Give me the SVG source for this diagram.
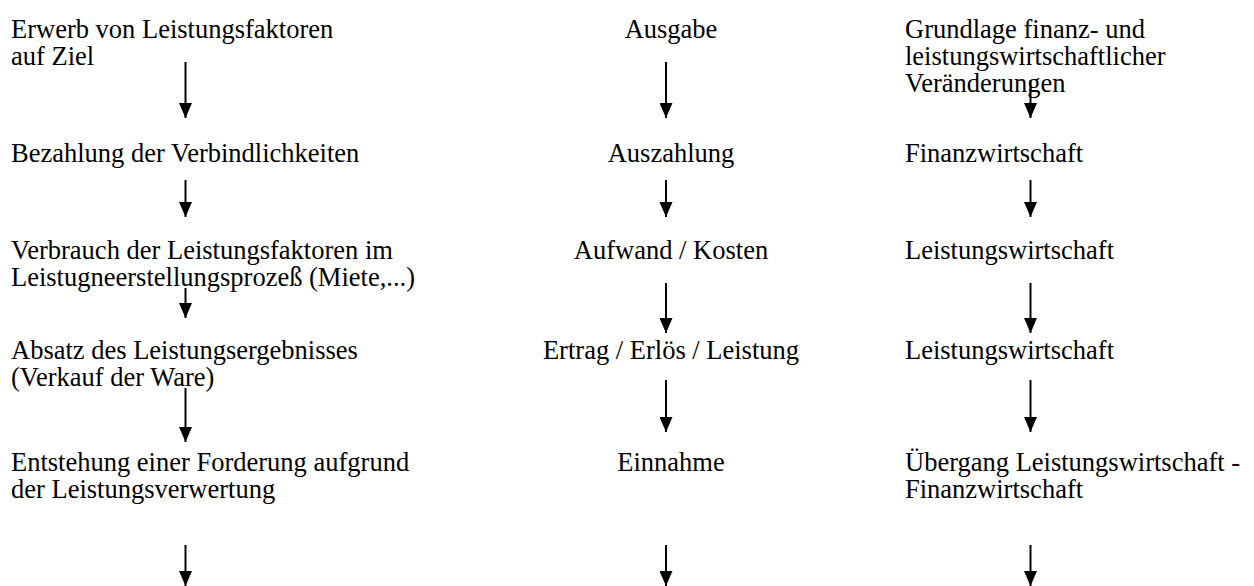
<svg xmlns="http://www.w3.org/2000/svg" width="1254" height="586" viewBox="0 0 1254 586">
<style>
text{font-family:"Liberation Serif","Times New Roman",serif;font-size:26.5px;fill:#000}
.c{text-anchor:middle}
.ar{stroke:#000;stroke-width:2;fill:none;marker-end:url(#ah)}
</style>
<defs>
<marker id="ah" markerWidth="15" markerHeight="13" refX="15" refY="6.5" orient="auto" markerUnits="userSpaceOnUse" viewBox="0 0 15 13">
<path d="M0,0 L15,6.5 L0,13 Z" fill="#000"/>
</marker>
</defs>
<rect width="1254" height="586" fill="#fff"/>
<g id="n1"><text x="11" y="38">Erwerb von Leistungsfaktoren</text><text x="11" y="65">auf Ziel</text></g>
<g id="n2"><text x="11" y="162">Bezahlung der Verbindlichkeiten</text></g>
<g id="n3"><text x="11" y="259">Verbrauch der Leistungsfaktoren im</text><text x="11" y="286">Leistugneerstellungsprozeß (Miete,...)</text></g>
<g id="n4"><text x="11" y="359">Absatz des Leistungsergebnisses</text><text x="11" y="386">(Verkauf der Ware)</text></g>
<g id="n5"><text x="11" y="471">Entstehung einer Forderung aufgrund</text><text x="11" y="498">der Leistungsverwertung</text></g>
<g id="m1"><text class="c" x="671" y="38">Ausgabe</text></g>
<g id="m2"><text class="c" x="671" y="162">Auszahlung</text></g>
<g id="m3"><text class="c" x="671" y="259">Aufwand / Kosten</text></g>
<g id="m4"><text class="c" x="671" y="359">Ertrag / Erlös / Leistung</text></g>
<g id="m5"><text class="c" x="671" y="471">Einnahme</text></g>
<g id="r1"><text x="905" y="38">Grundlage finanz- und</text><text x="905" y="65">leistungswirtschaftlicher</text><text x="905" y="92">Veränderungen</text></g>
<g id="r2"><text x="905" y="162">Finanzwirtschaft</text></g>
<g id="r3"><text x="905" y="259">Leistungswirtschaft</text></g>
<g id="r4"><text x="905" y="359">Leistungswirtschaft</text></g>
<g id="r5"><text x="905" y="471">Übergang Leistungswirtschaft -</text><text x="905" y="498">Finanzwirtschaft</text></g>
<g id="connectors">
<line class="ar" x1="185.5" y1="62" x2="185.5" y2="118"/>
<line class="ar" x1="185.5" y1="180" x2="185.5" y2="217"/>
<line class="ar" x1="185.5" y1="288" x2="185.5" y2="318"/>
<line class="ar" x1="185.5" y1="388" x2="185.5" y2="442"/>
<line class="ar" x1="185.5" y1="545" x2="185.5" y2="586"/>
<line class="ar" x1="666" y1="62" x2="666" y2="118"/>
<line class="ar" x1="666" y1="180" x2="666" y2="217"/>
<line class="ar" x1="666" y1="283" x2="666" y2="333"/>
<line class="ar" x1="666" y1="380" x2="666" y2="432"/>
<line class="ar" x1="666" y1="545" x2="666" y2="586"/>
<line class="ar" x1="1030.5" y1="80" x2="1030.5" y2="118"/>
<line class="ar" x1="1030.5" y1="180" x2="1030.5" y2="217"/>
<line class="ar" x1="1030.5" y1="283" x2="1030.5" y2="333"/>
<line class="ar" x1="1030.5" y1="380" x2="1030.5" y2="432"/>
<line class="ar" x1="1030.5" y1="545" x2="1030.5" y2="586"/>
</g>
</svg>
